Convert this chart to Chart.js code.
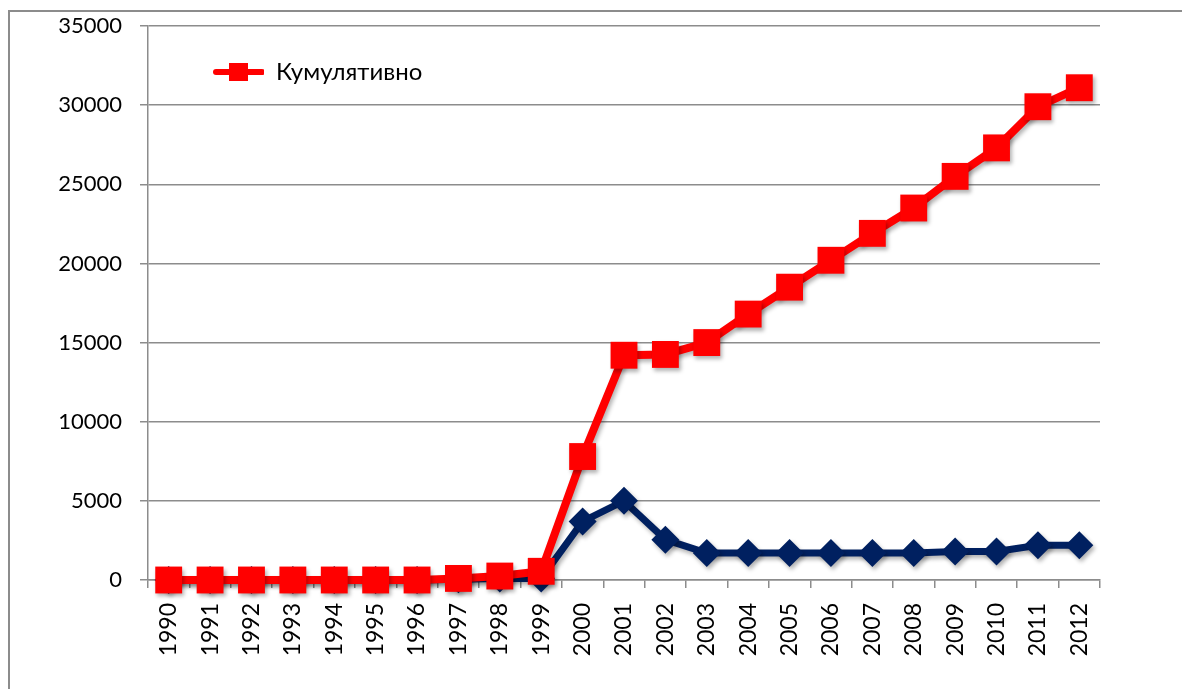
<!DOCTYPE html>
<html>
<head>
<meta charset="utf-8">
<script src="https://cdn.jsdelivr.net/npm/chart.js@4"></script>
<style>
    html, body { margin: 0; padding: 0; background: #fff; overflow: hidden; }
    #frame {
        position: absolute; left: 8px; top: 10px; width: 1300px; height: 800px;
        border-left: 2px solid #8c8c8c; border-top: 2px solid #8c8c8c;
    }
    #wrap { position: absolute; left: 0; top: 0; width: 1182px; height: 689px; }
</style>
</head>
<body>
<div id="frame"></div>
<div id="wrap"><canvas id="grafik" width="1182" height="689"></canvas></div>
<script>
// Data
const tahun = ['1990', '1991', '1992', '1993', '1994', '1995', '1996', '1997', '1998', '1999', '2000',
    '2001', '2002', '2003', '2004', '2005', '2006', '2007', '2008', '2009', '2010', '2011', '2012'];
const kumulativno = [0, 0, 0, 0, 0, 0, 0, 100, 250, 550, 7800, 14200, 14250, 15000, 16800, 18500,
    20200, 21900, 23500, 25500, 27300, 29900, 31100];
const godisno = [0, 0, 0, 0, 0, 0, 0, 50, 100, 100, 3700, 5000, 2550, 1700, 1700, 1700,
    1700, 1700, 1700, 1800, 1800, 2200, 2200];
const yTicks = [0, 5000, 10000, 15000, 20000, 25000, 30000, 35000];

const MERAH = '#ff0000';
const BIRU = '#002060';
const FONT = 'Lato, "Open Sans", sans-serif';

// ikon legenda: garis + kotak
function buatIkon() {
    const c = document.createElement('canvas');
    c.width = 56;
    c.height = 26;
    const g = c.getContext('2d');
    g.strokeStyle = MERAH;
    g.lineWidth = 6;
    g.lineCap = 'round';
    g.beginPath();
    g.moveTo(8, 13);
    g.lineTo(54, 13);
    g.stroke();
    g.fillStyle = MERAH;
    g.fillRect(21, 4, 19, 18);
    return c;
}

// bayangan tipis seperti di Excel
const bayangan = {
    id: 'bayangan',
    beforeDatasetsDraw(chart) {
        const ctx = chart.ctx;
        ctx.save();
        ctx.shadowColor = 'rgba(0,0,0,0.3)';
        ctx.shadowBlur = 4;
        ctx.shadowOffsetX = 2;
        ctx.shadowOffsetY = 3;
    },
    afterDatasetsDraw(chart) {
        chart.ctx.restore();
    }
};

const ctx = document.getElementById('grafik').getContext('2d');
new Chart(ctx, {
    type: 'line',
    data: {
        labels: tahun,
        datasets: [{
            label: 'Кумулятивно',
            data: kumulativno,
            borderColor: MERAH,
            backgroundColor: MERAH,
            borderWidth: 8,
            pointStyle: 'rect',
            pointRadius: 19,
            pointBorderWidth: 0,
            clip: false,
            order: 0
        }, {
            label: 'Годишно',
            data: godisno,
            borderColor: BIRU,
            backgroundColor: BIRU,
            borderWidth: 7,
            pointStyle: 'rectRot',
            pointRadius: 14,
            pointBorderWidth: 0,
            clip: false,
            order: 1
        }]
    },
    options: {
        responsive: false,
        animation: false,
        layout: { padding: { left: 0, right: 82, top: 26, bottom: 0 } },
        scales: {
            x: {
                offset: true,
                grid: {
                    offset: true,
                    drawOnChartArea: false,
                    drawTicks: true,
                    tickLength: 8,
                    color: '#8c8c8c',
                    lineWidth: 1.5
                },
                border: { color: '#8c8c8c', width: 1.5 },
                ticks: {
                    minRotation: 90,
                    maxRotation: 90,
                    autoSkip: false,
                    padding: 15,
                    color: '#000',
                    font: { family: FONT, size: 23 }
                },
                afterFit(scale) {
                    scale.height = 109;
                    scale.paddingLeft = 0;
                    scale.paddingRight = 0;
                }
            },
            y: {
                min: 0,
                max: 35000,
                afterBuildTicks(scale) { scale.ticks = yTicks.map(v => ({ value: v })); },
                grid: {
                    color: '#8c8c8c',
                    lineWidth: 1.5,
                    tickLength: 8
                },
                border: { color: '#8c8c8c', width: 1.5 },
                ticks: {
                    padding: 18,
                    color: '#000',
                    font: { family: FONT, size: 22 },
                    callback: v => String(v)
                },
                afterFit(scale) {
                    scale.width = 148;
                    scale.paddingTop = 0;
                    scale.paddingBottom = 0;
                }
            }
        },
        plugins: {
            legend: {
                position: 'chartArea',
                align: 'start',
                labels: {
                    filter: item => item.datasetIndex === 0,
                    usePointStyle: true,
                    pointStyle: buatIkon(),
                    pointStyleWidth: 56,
                    padding: 60,
                    color: '#000',
                    font: { family: FONT, size: 24 }
                }
            },
            tooltip: { enabled: false }
        }
    },
    plugins: [bayangan]
});
</script>
</body>
</html>
